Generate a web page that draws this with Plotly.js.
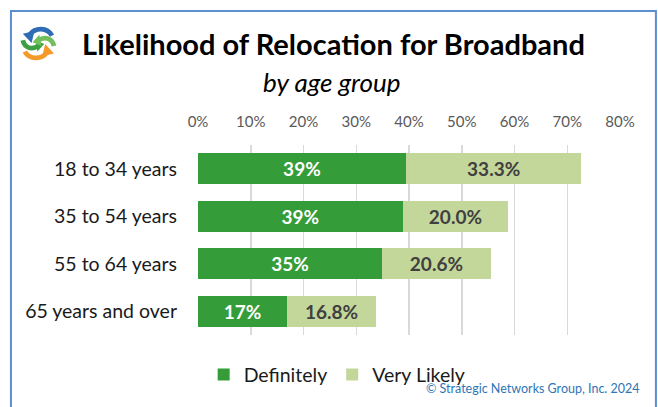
<!DOCTYPE html>
<html>
<head>
<meta charset="utf-8">
<script src="https://cdn.plot.ly/plotly-3.0.1.min.js"></script>
<style>html,body{margin:0;padding:0;background:#fff;}#chart{width:658px;height:407px;}</style>
</head>
<body>
<div id="chart"></div>
<script>
const categories = ["18 to 34 years", "35 to 54 years", "55 to 64 years", "65 years and over"];
const definitely = [0.394, 0.388, 0.349, 0.169];
const veryLikely = [0.333, 0.200, 0.206, 0.168];
const seriesNames = ["Definitely", "Very Likely"];
const tickValues = [0, 0.1, 0.2, 0.3, 0.4, 0.5, 0.6, 0.7, 0.8];

const W = 658, H = 407;
const M = {l: 197.5, r: 37.5, t: 144.5, b: 69.5};
const pw = W - M.l - M.r, ph = H - M.t - M.b;
const px = x => (x - M.l) / pw;
const py = y => (H - M.b - y) / ph;

const FONT = "Lato, 'Open Sans', sans-serif";

const logoSvg = `<svg xmlns="http://www.w3.org/2000/svg" viewBox="0 0 40 40">
<path d="M34,12 C29,3 17,3 11,11" fill="none" stroke="#2E6DB4" stroke-width="5"/>
<polygon points="4,10 16,7 13,20" fill="#2E6DB4"/>
<path d="M6,29 C11,38 23,38 29,30" fill="none" stroke="#F39A2B" stroke-width="5"/>
<polygon points="36,31 24,34 27,21" fill="#F39A2B"/>
<path d="M4,17 C6,26 14,27 20,23" fill="none" stroke="#3DA043" stroke-width="5"/>
<polygon points="26,21 17,17 19,29" fill="#3DA043"/>
<path d="M36,23 C34,14 26,13 20,17" fill="none" stroke="#72BF5C" stroke-width="5"/>
<polygon points="14,19 23,23 21,11" fill="#72BF5C"/>
</svg>`;

const traces = [
  {
    type: "bar", orientation: "h", name: seriesNames[0],
    y: categories, x: definitely,
    marker: {color: "#349C38"},
    texttemplate: "%{x:.0%}", textposition: "inside", insidetextanchor: "middle",
    textfont: {family: FONT, size: 19, color: "#ffffff", weight: "bold"},
    constraintext: "none", hoverinfo: "skip"
  },
  {
    type: "bar", orientation: "h", name: seriesNames[1],
    y: categories, x: veryLikely,
    marker: {color: "#C4D79B"},
    texttemplate: "%{x:.1%}", textposition: "inside", insidetextanchor: "middle",
    textfont: {family: FONT, size: 19, color: "#404040", weight: "bold"},
    constraintext: "none", hoverinfo: "skip"
  }
];

const layout = {
  width: W, height: H,
  margin: M,
  paper_bgcolor: "#ffffff", plot_bgcolor: "#ffffff",
  barmode: "stack", bargap: 0.34,
  font: {family: FONT, color: "#262626"},
  title: {
    text: "<b>Likelihood of Relocation for Broadband</b>",
    font: {family: FONT, size: 29, color: "#000000"},
    x: 333.5 / W, xanchor: "center", xref: "container",
    y: 1 - 45 / H, yanchor: "middle", yref: "container"
  },
  xaxis: {
    side: "top", range: [0, 0.8], tickvals: tickValues, tickformat: ".0%",
    showgrid: true, gridcolor: "#D9D9D9", gridwidth: 1.5,
    zeroline: false, showline: false, ticks: "",
    tickfont: {family: FONT, size: 15, color: "#595959"},
    ticklabelstandoff: 14,
    fixedrange: true
  },
  yaxis: {
    autorange: "reversed", showgrid: false, zeroline: false, showline: false, ticks: "",
    tickfont: {family: FONT, size: 19.5, color: "#1a1a1a"},
    ticklabelstandoff: 20,
    fixedrange: true
  },
  legend: {
    orientation: "h", x: px(337), xanchor: "center", y: py(378), yanchor: "middle",
    font: {family: FONT, size: 19.5, color: "#1a1a1a"},
    itemwidth: 30, traceorder: "normal"
  },
  annotations: [
    {text: "<i>by age group</i>", xref: "paper", yref: "paper", x: px(332), y: py(80),
     xanchor: "center", yanchor: "middle", showarrow: false,
     font: {family: FONT, size: 26, color: "#000000"}},
    {text: "© Strategic Networks Group, Inc. 2024", xref: "paper", yref: "paper", x: px(643), y: py(392),
     xanchor: "right", yanchor: "middle", showarrow: false,
     font: {family: FONT, size: 12.5, color: "#2E75B6"}}
  ],
  shapes: [
    {type: "rect", xref: "paper", yref: "paper", x0: px(10), x1: px(656.5), y0: py(430), y1: py(8.5),
     line: {color: "#5B8FD0", width: 2}, fillcolor: "rgba(0,0,0,0)", layer: "below"}
  ],
  images: [
    {source: "data:image/svg+xml;charset=utf-8," + encodeURIComponent(logoSvg),
     xref: "paper", yref: "paper", x: px(18), y: py(22), sizex: 39 / pw, sizey: 38 / ph,
     xanchor: "left", yanchor: "top", sizing: "stretch", layer: "above"}
  ],
  showlegend: true
};

Plotly.newPlot("chart", traces, layout, {displayModeBar: false, staticPlot: true});
</script>
</body>
</html>
